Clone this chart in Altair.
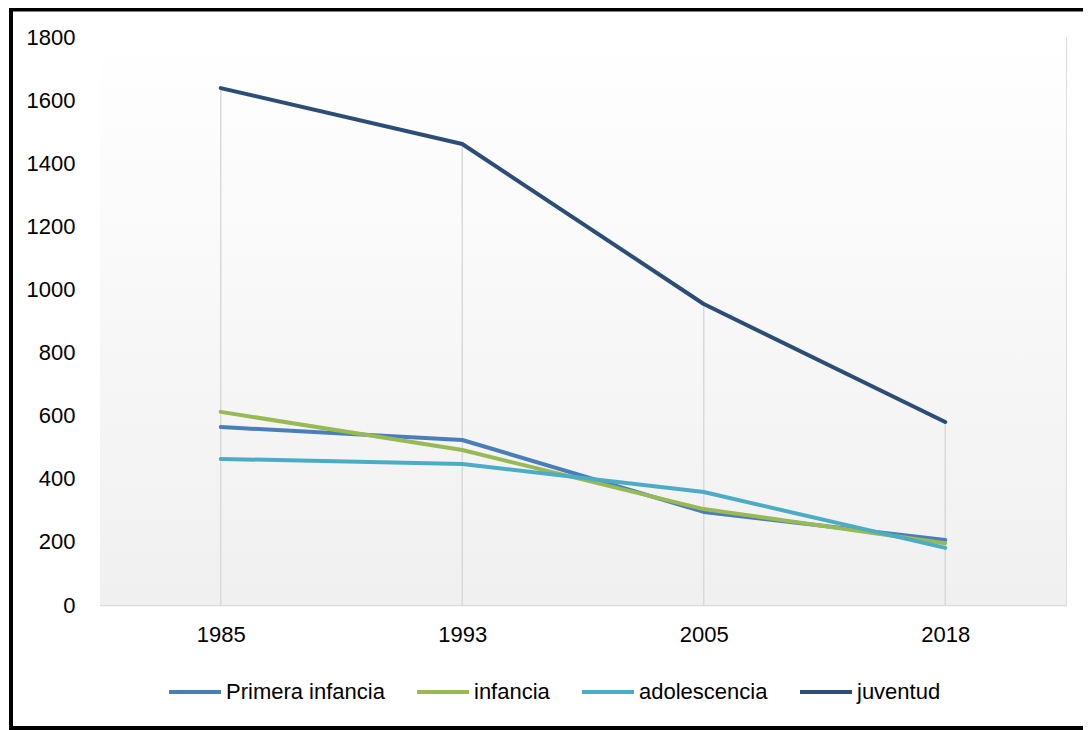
import altair as alt
import pandas as pd

years = ["1985", "1993", "2005", "2018"]
series = ["Primera infancia", "infancia", "adolescencia", "juventud"]
primera_infancia = [564, 523, 295, 206]
infancia = [612, 491, 304, 196]
adolescencia = [463, 447, 358, 181]
juventud = [1638, 1461, 954, 580]
colors = ["#4A7EBB", "#98B954", "#4BACC6", "#2C4D75"]

W, H = 966, 568
FONT = "Liberation Sans, Arial"
FS = 22

rows = []
for name, vals in zip(series, [primera_infancia, infancia, adolescencia, juventud]):
    for y, v in zip(years, vals):
        rows.append({"year": y, "serie": name, "valor": v})
df = pd.DataFrame(rows)

drop = pd.DataFrame({"year": years,
                     "top": [max(a, b, c, d) for a, b, c, d in zip(primera_infancia, infancia, adolescencia, juventud)],
                     "base": [0] * len(years)})

xenc = alt.X("year:O", sort=years,
             scale=alt.Scale(type="point", padding=0.5),
             axis=alt.Axis(title=None, labelAngle=0, ticks=False, domainColor="#d9d9d9",
                           domainWidth=1.5, labelFont=FONT, labelFontSize=FS, labelColor="#000",
                           labelPadding=19, grid=False))
yscale = alt.Scale(domain=[0, 1800], nice=False)

one = pd.DataFrame({"a": [0]})

bg = alt.Chart(one).mark_rect(
    color=alt.Gradient(gradient="linear", x1=0, x2=0, y1=0, y2=1,
                       stops=[alt.GradientStop(offset=0, color="#ffffff"),
                              alt.GradientStop(offset=1, color="#f0f0f0")])
).encode(x=alt.value(0), x2=alt.value(W), y=alt.value(0), y2=alt.value(H))

top_b = alt.Chart(one).mark_rule(color="#000", strokeWidth=4, clip=False).encode(
    x=alt.value(-89), x2=alt.value(W + 17), y=alt.value(-27.5))
left_b = alt.Chart(one).mark_rule(color="#000", strokeWidth=4, clip=False).encode(
    x=alt.value(-89), y=alt.value(-29.5), y2=alt.value(693))
bot_b = alt.Chart(one).mark_rule(color="#000", strokeWidth=4, clip=False).encode(
    x=alt.value(-91), x2=alt.value(W + 17), y=alt.value(691))

rules = alt.Chart(drop).mark_rule(color="#d9d9d9", strokeWidth=1.5).encode(
    x=xenc,
    y=alt.Y("top:Q", scale=yscale),
    y2="base:Q",
)

lines = alt.Chart(df).mark_line(strokeWidth=4, strokeCap="round", strokeJoin="round").encode(
    x=xenc,
    y=alt.Y("valor:Q", scale=yscale,
            axis=alt.Axis(title=None, values=list(range(0, 1801, 200)), format="d", grid=False,
                          ticks=False, domain=False, labelFont=FONT, labelFontSize=FS,
                          labelColor="#000", labelPadding=25)),
    color=alt.Color("serie:N", sort=series,
                    scale=alt.Scale(domain=series, range=colors),
                    legend=alt.Legend(orient="none", legendX=67, legendY=627, direction="horizontal",
                                      title=None, symbolType="stroke", symbolSize=2704,
                                      symbolStrokeWidth=4, labelFont=FONT, labelFontSize=FS,
                                      labelColor="#000", columnPadding=24, labelOffset=3,
                                      labelLimit=400, padding=0)),
    order=alt.Order("year:O"),
)

chart = alt.layer(bg, rules, lines, top_b, left_b, bot_b).properties(
    width=W, height=H,
    padding={"left": 92, "top": 29, "right": 17, "bottom": 125},
    autosize=alt.AutoSizeParams(type="none"),
).configure_view(stroke=None).configure(background="white")

chart.save("out.html", embed_options={"renderer": "svg", "actions": False})
